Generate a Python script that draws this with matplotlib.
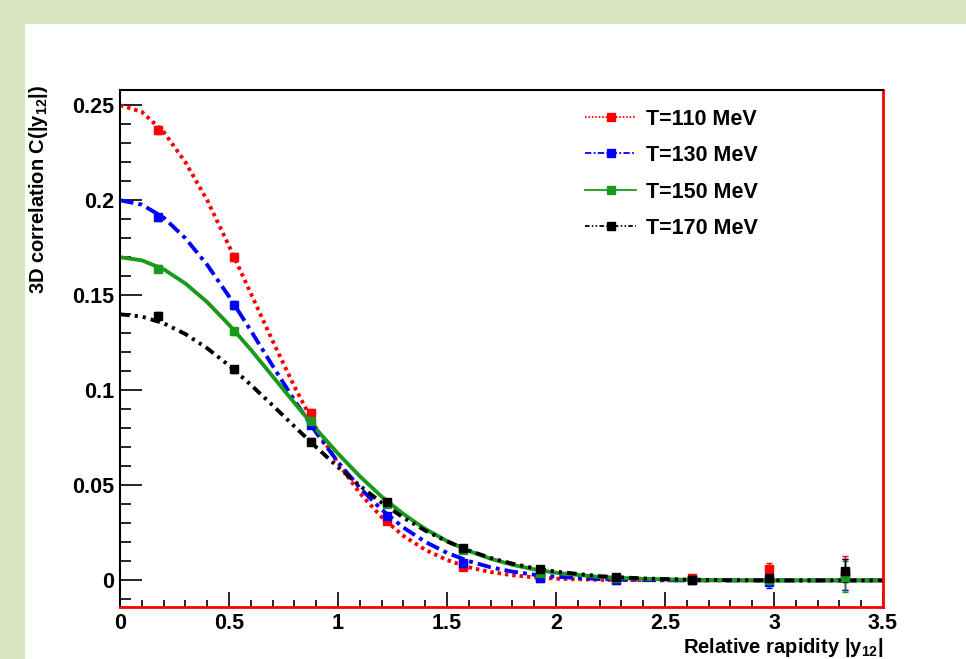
import matplotlib.pyplot as plt
from matplotlib.lines import Line2D
from matplotlib.patches import Rectangle
import numpy as np

plt.rcParams["font.family"] = "Liberation Sans"
plt.rcParams["font.weight"] = "bold"
plt.rcParams["axes.labelweight"] = "bold"
plt.rcParams["mathtext.fontset"] = "custom"
plt.rcParams["mathtext.rm"] = "Liberation Sans:bold"
plt.rcParams["mathtext.bf"] = "Liberation Sans:bold"

# data points (bin centres)
x_pts = [0.175, 0.525, 0.875, 1.225, 1.575, 1.925, 2.275, 2.625, 2.975, 3.325]
c110 = [0.237, 0.170, 0.088, 0.031, 0.007, 0.001, 0.000, 0.001, 0.006, 0.004]
c130 = [0.191, 0.145, 0.082, 0.034, 0.009, 0.001, 0.000, 0.000, -0.001, 0.003]
c150 = [0.164, 0.131, 0.084, 0.040, 0.016, 0.004, 0.001, 0.000, 0.000, 0.002]
c170 = [0.139, 0.111, 0.073, 0.041, 0.017, 0.006, 0.002, 0.000, 0.001, 0.005]
e110 = [0.002, 0.002, 0.002, 0.001, 0.001, 0.001, 0.001, 0.001, 0.003, 0.009]
e130 = [0.002, 0.002, 0.002, 0.001, 0.001, 0.001, 0.001, 0.001, 0.003, 0.008]
e150 = [0.002, 0.002, 0.002, 0.001, 0.001, 0.001, 0.001, 0.001, 0.002, 0.008]
e170 = [0.002, 0.002, 0.002, 0.001, 0.001, 0.001, 0.001, 0.001, 0.002, 0.006]

# fitted curves
x_fit = [0, 0.1, 0.2, 0.3, 0.4, 0.5, 0.6, 0.7, 0.8, 0.9, 1.0, 1.1, 1.2, 1.3,
         1.4, 1.5, 1.6, 1.7, 1.8, 1.9, 2.0, 2.2, 2.4, 2.6, 2.8, 3.0, 3.5]
f110 = [0.250, 0.2465, 0.236, 0.220, 0.200, 0.176, 0.151, 0.126, 0.102, 0.080,
        0.0617, 0.0459, 0.0333, 0.0234, 0.0161, 0.0107, 0.0069, 0.0044, 0.0027,
        0.0016, 0.0009, 0.0003, 0.0001, 0, 0, 0, 0]
f130 = [0.200, 0.1977, 0.1909, 0.180, 0.166, 0.1494, 0.1314, 0.1129, 0.0948,
        0.0777, 0.0623, 0.0487, 0.0373, 0.0278, 0.0203, 0.0145, 0.0101, 0.0069,
        0.0046, 0.0030, 0.0019, 0.0007, 0.0002, 0, 0, 0, 0]
f150 = [0.170, 0.1684, 0.1637, 0.1562, 0.1464, 0.1345, 0.1214, 0.1074, 0.0934,
        0.0796, 0.0667, 0.0548, 0.0441, 0.0349, 0.0271, 0.0207, 0.0155, 0.0114,
        0.0082, 0.0058, 0.0040, 0.0018, 0.0008, 0.0003, 0.0001, 0, 0]
f170 = [0.140, 0.1388, 0.1353, 0.1296, 0.1221, 0.1131, 0.1029, 0.0921, 0.0810,
        0.0701, 0.0596, 0.0498, 0.0409, 0.0330, 0.0262, 0.0205, 0.0157, 0.0118,
        0.0088, 0.0064, 0.0046, 0.0022, 0.0010, 0.0004, 0.0001, 0, 0]

labels = ["T=110 MeV", "T=130 MeV", "T=150 MeV", "T=170 MeV"]
colors = ["#ff0000", "#0000ff", "#1a9a1a", "#000000"]
styles = [(0, (0.9, 1.0)), (0, (3.5, 1.3, 1, 1.3)), "-", (0, (2.5, 1.3, 0.8, 1.3, 0.8, 1.3))]

fig = plt.figure(figsize=(9.66, 6.59), dpi=100, facecolor="#d9e4c1")
fig.add_artist(Rectangle((25 / 966, 0), 1, 1 - 24 / 659, transform=fig.transFigure,
                         facecolor="white", edgecolor="none", zorder=0))
ax = fig.add_axes([120 / 966, 1 - 607 / 659, 763 / 966, 517 / 659])

handles = []
for f, c, e, col, ls, lab in zip([f110, f130, f150, f170], [c110, c130, c150, c170],
                                 [e110, e130, e150, e170], colors, styles, labels):
    ax.plot(x_fit, f, color=col, linestyle=ls, lw=2.8)
    ax.errorbar(x_pts, c, yerr=e, fmt="s", color=col, ms=5.5, elinewidth=1,
                capsize=2, capthick=1)
    handles.append(Line2D([], [], color=col, linestyle=ls, lw=1.3, marker="s", ms=6))

ax.set_xlim(0, 3.5)
ax.set_ylim(-0.014, 0.258)
ax.set_xticks(np.arange(0, 3.51, 0.5))
ax.set_xticks(np.arange(0, 3.51, 0.1), minor=True)
ax.set_xticklabels(["0", "0.5", "1", "1.5", "2", "2.5", "3", "3.5"])
ax.set_yticks([0, 0.05, 0.1, 0.15, 0.2, 0.25])
ax.set_yticks(np.arange(-0.01, 0.2551, 0.01), minor=True)
ax.set_yticklabels(["0", "0.05", "0.1", "0.15", "0.2", "0.25"])
ax.tick_params(axis="y", which="major", direction="in", length=16, width=1.2,
               labelsize=15.5, pad=4)
ax.tick_params(axis="y", which="minor", direction="in", length=8, width=1.2)
ax.tick_params(axis="x", which="major", direction="in", length=11, width=1.2,
               labelsize=15.5, pad=4)
ax.tick_params(axis="x", which="minor", direction="in", length=5, width=1.2)

ax.spines["top"].set_linewidth(1.5)
ax.spines["left"].set_linewidth(1.5)
ax.spines["right"].set_color("#ff0000")
ax.spines["right"].set_linewidth(2)
ax.spines["bottom"].set_color("#ff0000")
ax.spines["bottom"].set_linewidth(2)

ax.set_ylabel("3D correlation C(|y$_{12}$|)", fontsize=14.5, loc="top")
ax.yaxis.set_label_coords(-0.092, 1.01)
ax.set_xlabel("Relative rapidity |y$_{12}$|", fontsize=14.5, loc="right", labelpad=2)

ax.legend(handles=handles, labels=labels, loc="upper left",
          bbox_to_anchor=(0.595, 0.985), frameon=False, fontsize=15.5,
          handlelength=2.4, handletextpad=0.45, labelspacing=0.72, borderpad=0)

fig.savefig("out.png", dpi=100, facecolor=fig.get_facecolor())
